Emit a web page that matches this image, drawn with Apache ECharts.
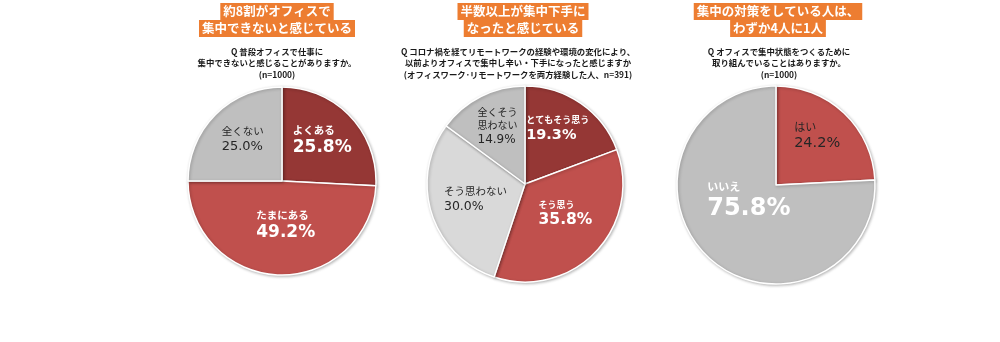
<!DOCTYPE html>
<html>
<head>
<meta charset="utf-8">
<script src="https://cdn.jsdelivr.net/npm/echarts@6/dist/echarts.min.js"></script>
<style>
html,body{margin:0;padding:0;background:#fff;}
#chart{width:1000px;height:342px;}
</style>
</head>
<body>
<div id="chart"></div>
<script>
// ---- data ----
const headlines = [
  ['約8割がオフィスで', '集中できないと感じている'],
  ['半数以上が集中下手に', 'なったと感じている'],
  ['集中の対策をしている人は、', 'わずか4人に1人']
];
const questions = [
  ['Q 普段オフィスで仕事に', '集中できないと感じることがありますか。', '(n=1000)'],
  ['Q コロナ禍を経てリモートワークの経験や環境の変化により、', '以前よりオフィスで集中し辛い・下手になったと感じますか', '(オフィスワーク･リモートワークを両方経験した人、n=391)'],
  ['Q オフィスで集中状態をつくるために', '取り組んでいることはありますか。', '(n=1000)']
];
const pie1Names = ['よくある', 'たまにある', '全くない'];
const pie1Values = [25.8, 49.2, 25.0];
const pie2Names = ['とてもそう思う', 'そう思う', 'そう思わない', '全くそう\n思わない'];
const pie2Values = [19.3, 35.8, 30.0, 14.9];
const pie3Names = ['はい', 'いいえ'];
const pie3Values = [24.2, 75.8];

// ---- styles ----
const DARK = '#953735', RED = '#C0504D', GRAY = '#BFBFBF', LIGHT = '#D9D9D9';
const ORANGE = '#ED7D31';
const JP = '"Noto Sans CJK JP", "Noto Sans", sans-serif';
const NUM = '"DejaVu Sans", Verdana, sans-serif';

const pieLayout = [
  { center: [282, 181], radius: 94 },
  { center: [525, 184], radius: 98 },
  { center: [776, 185], radius: 99 }
];
const headX = [277, 523, 778];
const qX = [277, 518, 779];

// label style per slice: kind, name font size, value font size, label nudge [dx, dy]
const pie1Style = [
  { color: DARK, label: 'strong', ns: 10.5, vs: 17, nudge: [4, -6] },
  { color: RED, label: 'strong', ns: 10.5, vs: 17, nudge: [5, -5] },
  { color: GRAY, label: 'plain', ns: 10.5, vs: 13, nudge: [-4, -6] }
];
const pie2Style = [
  { color: DARK, label: 'strong', ns: 9, vs: 14.5, nudge: [3, -12] },
  { color: RED, label: 'strong', ns: 9, vs: 15.5, nudge: [3, -6] },
  { color: LIGHT, label: 'plain', ns: 10.5, vs: 12.5, nudge: [0, 0] },
  { color: GRAY, label: 'plain', ns: 10, vs: 12, nudge: [-4, -11] }
];
const pie3Style = [
  { color: RED, label: 'plain', ns: 11, vs: 14.5, nudge: [5, -11] },
  { color: GRAY, label: 'strong', ns: 11, vs: 24, nudge: [9, -22] }
];
const allStyles = [pie1Style, pie2Style, pie3Style];

function richFor(kind, ns, vs) {
  const c = kind === 'strong' ? '#fff' : '#262626';
  const w = kind === 'strong' ? 'bold' : 'normal';
  return {
    n: { color: c, fontFamily: JP, fontWeight: w, fontSize: ns, lineHeight: ns + 3.5, align: 'left' },
    v: { color: c, fontFamily: NUM, fontWeight: w, fontSize: vs, lineHeight: vs + 4, align: 'left' }
  };
}

function buildData(names, values, styles) {
  return names.map((n, i) => ({
    name: n,
    value: values[i],
    itemStyle: { color: styles[i].color },
    label: { rich: richFor(styles[i].label, styles[i].ns, styles[i].vs) }
  }));
}

function fmt(p) {
  return p.name.split('\n').map(s => '{n|' + s + '}').join('\n') + '\n{v|' + p.value.toFixed(1) + '%}';
}

const datasets = [
  buildData(pie1Names, pie1Values, pie1Style),
  buildData(pie2Names, pie2Values, pie2Style),
  buildData(pie3Names, pie3Values, pie3Style)
];

const titles = [];
headlines.forEach((lines, i) => {
  titles.push({
    text: lines.map(s => '{a|' + s + '}').join('\n'),
    left: headX[i], top: 3, textAlign: 'center', padding: 0,
    textStyle: {
      rich: {
        a: { backgroundColor: ORANGE, color: '#fff', fontFamily: JP, fontWeight: 'bold',
             fontSize: 12.5, height: 17, lineHeight: 17, padding: [0, 3] }
      }
    }
  });
  titles.push({
    text: questions[i].join('\n'),
    left: qX[i], top: 46, textAlign: 'center', padding: 0,
    textStyle: { fontFamily: JP, fontWeight: 'bold', fontSize: 8.4, lineHeight: 11.5, color: '#1a1a1a' }
  });
});

const series = datasets.map((d, i) => ({
  type: 'pie',
  center: pieLayout[i].center,
  radius: pieLayout[i].radius,
  startAngle: 90,
  clockwise: true,
  silent: true,
  animation: false,
  avoidLabelOverlap: false,
  minShowLabelAngle: 0,
  itemStyle: { borderColor: '#fff', borderWidth: 1.5, shadowBlur: 3, shadowColor: 'rgba(0,0,0,0.25)', shadowOffsetX: 1, shadowOffsetY: 1 },
  label: { show: true, position: 'inside', formatter: fmt },
  labelLine: { show: false },
  labelLayout: function (p) {
    const s = allStyles[i][p.dataIndex];
    return { dx: s.nudge[0], dy: s.nudge[1], hideOverlap: false };
  },
  data: d
}));

const chart = echarts.init(document.getElementById('chart'), null, { renderer: 'canvas' });
chart.setOption({ backgroundColor: '#fff', animation: false, title: titles, series: series });
</script>
</body>
</html>
